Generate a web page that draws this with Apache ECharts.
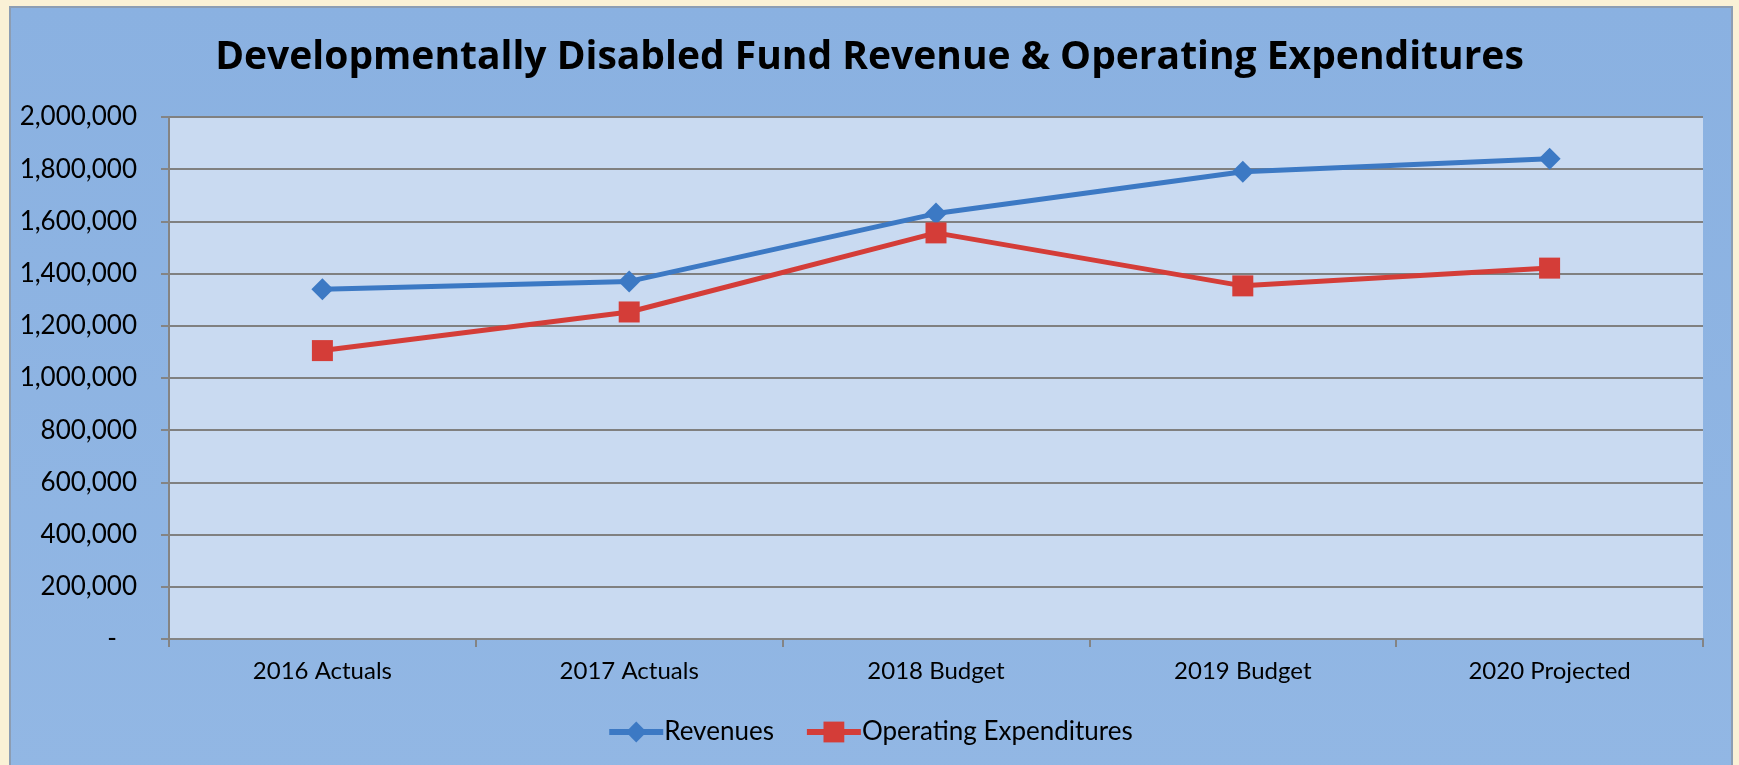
<!DOCTYPE html>
<html>
<head>
<meta charset="utf-8">
<script src="https://cdn.jsdelivr.net/npm/echarts@6/dist/echarts.min.js"></script>
<style>
  html, body { margin: 0; padding: 0; background: #FAF1D6; }
  #chart { width: 1739px; height: 765px; }
</style>
</head>
<body>
<div id="chart"></div>
<script>
// chart data
var categories = ['2016 Actuals', '2017 Actuals', '2018 Budget', '2019 Budget', '2020 Projected'];
var revenues = [1340000, 1370000, 1630000, 1790000, 1840000];
var expenditures = [1105000, 1253000, 1556000, 1353000, 1421000];
var yTicks = { min: 0, max: 2000000, interval: 200000 };

var myChart = echarts.init(document.getElementById('chart'));

function fmt(v) {
    if (v == 0) return '-   ';
    return String(v).replace(/\B(?=(\d{3})+(?!\d))/g, ',');
}

var option = {
    backgroundColor: '#FAF1D6',
    textStyle: { fontFamily: 'Lato', color: '#000' },
    graphic: [{
        type: 'rect',
        z: -10,
        shape: { x: 10, y: 7, width: 1722, height: 770 },
        style: {
            fill: new echarts.graphic.LinearGradient(0, 0, 0, 1, [
                { offset: 0, color: '#8AB1E1' },
                { offset: 1, color: '#92B7E4' }
            ]),
            stroke: '#8c9db3',
            lineWidth: 2
        }
    }],
    title: {
        text: 'Developmentally Disabled Fund Revenue & Operating Expenditures',
        left: 'center',
        top: 33,
        textStyle: { fontFamily: 'Open Sans', fontWeight: 'bold', fontSize: 39, color: '#000' }
    },
    legend: {
        bottom: 15,
        left: 'center',
        itemWidth: 54,
        itemHeight: 26,
        itemGap: 30,
        lineStyle: { width: 6 },
        textStyle: { fontSize: 26, color: '#000', padding: [0, 0, 0, -4] },
        data: ['Revenues', 'Operating Expenditures']
    },
    grid: {
        left: 169, right: 36, top: 117, bottom: 126,
        show: true,
        backgroundColor: '#C9DAF1',
        borderWidth: 0
    },
    xAxis: {
        type: 'category',
        data: categories,
        boundaryGap: true,
        axisLine: { lineStyle: { color: '#848484', width: 2 } },
        axisTick: { show: true, length: 8, lineStyle: { color: '#848484', width: 2 } },
        axisLabel: { fontSize: 24, color: '#000', margin: 20 }
    },
    yAxis: {
        type: 'value',
        min: yTicks.min,
        max: yTicks.max,
        interval: yTicks.interval,
        axisLine: { show: true, lineStyle: { color: '#848484', width: 2 } },
        axisTick: { show: true, length: 8, lineStyle: { color: '#848484', width: 2 } },
        axisLabel: { fontSize: 26, color: '#000', margin: 32, formatter: fmt },
        splitLine: { lineStyle: { color: '#808080', width: 2 } }
    },
    series: [{
        name: 'Revenues',
        type: 'line',
        data: revenues,
        symbol: 'diamond',
        symbolSize: 22,
        color: '#3C79C4',
        lineStyle: { width: 5, color: '#3C79C4' },
        itemStyle: { color: '#3C79C4' }
    }, {
        name: 'Operating Expenditures',
        type: 'line',
        data: expenditures,
        symbol: 'rect',
        symbolSize: 21,
        color: '#D43D38',
        lineStyle: { width: 5, color: '#D43D38' },
        itemStyle: { color: '#D43D38' }
    }]
};

myChart.setOption(option);
</script>
</body>
</html>
